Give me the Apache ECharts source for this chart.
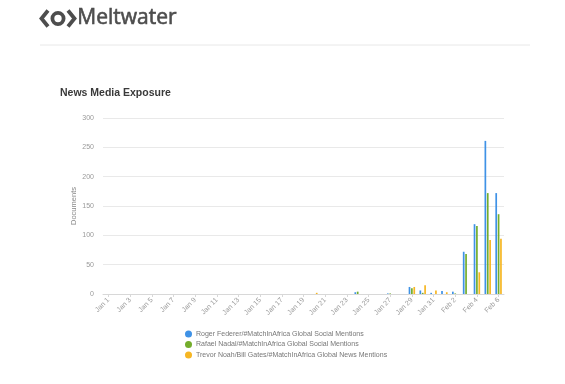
<!DOCTYPE html>
<html><head><meta charset="utf-8">
<script src="https://cdn.jsdelivr.net/npm/echarts@6/dist/echarts.min.js"></script>
<style>html,body{margin:0;padding:0;background:#fff}#c{width:565px;height:384px}</style>
</head><body><div id="c"></div>
<script>
var categories = ["Jan 1","Jan 2","Jan 3","Jan 4","Jan 5","Jan 6","Jan 7","Jan 8","Jan 9","Jan 10","Jan 11","Jan 12","Jan 13","Jan 14","Jan 15","Jan 16","Jan 17","Jan 18","Jan 19","Jan 20","Jan 21","Jan 22","Jan 23","Jan 24","Jan 25","Jan 26","Jan 27","Jan 28","Jan 29","Jan 30","Jan 31","Feb 1","Feb 2","Feb 3","Feb 4","Feb 5","Feb 6"];
var federer = [0,0,0,0,0,0,0,0,0,0,0,0,0,0,0,0,0,0,0,0,0,0,0,3,0,0,1,0,12,6,2,5,4,72,119,261,172];
var nadal   = [0,0,0,0,0,0,0,0,0,0,0,0,0,0,0,0,0,0,0,0,0,0,0,4,0,0,1,0,10,2,0,0,1,68,116,172,136];
var noah    = [0,0,0,0,0,0,0,0,0,0,0,0,0,0,0,0,0,0,0,2,0,0,0,0,0,0,0,0,12,15,6,3,0,0,37,92,94];
var seriesNames = ["Roger Federer/#MatchInAfrica Global Social Mentions","Rafael Nadal/#MatchInAfrica Global Social Mentions","Trevor Noah/Bill Gates/#MatchInAfrica Global News Mentions"];
var yTicks = [0,50,100,150,200,250,300];

var chart = echarts.init(document.getElementById('c'), null, {renderer:'canvas'});
var colors = ['#3f92e6','#74ad2c','#f6b623'];
function mk(i, data){
  return {name: seriesNames[i], type:'bar', data:data, barWidth:1.7, barGap:'40%',
    itemStyle:{color:colors[i]}};
}
chart.setOption({
  animation:false,
  color: colors,
  graphic:[
    {type:'polyline', shape:{points:[[48,10.5],[41.5,18.5],[48,26.5]]}, style:{stroke:'#4d4d4d',lineWidth:3.8,fill:null,lineJoin:'miter'}},
    {type:'circle', shape:{cx:58,cy:18.5,r:5.6}, style:{stroke:'#4d4d4d',lineWidth:3.8,fill:null}},
    {type:'polyline', shape:{points:[[68,10.5],[74.5,18.5],[68,26.5]]}, style:{stroke:'#4d4d4d',lineWidth:3.8,fill:null,lineJoin:'miter'}},
    {type:'text', left:77, top:7, style:{text:'Meltwater', fill:'#4d4d4d', stroke:'#4d4d4d', lineWidth:0.6, font:'400 21px "Open Sans", sans-serif'}},
    {type:'line', shape:{x1:40,y1:45,x2:530,y2:45}, style:{stroke:'#e8e8e8',lineWidth:1}},
    {type:'text', left:60, top:88, style:{text:'News Media Exposure', fill:'#3a3a3a', font:'bold 10.5px "Liberation Sans", Arial, sans-serif'}}
  ],
  legend:{orient:'vertical', left:180, top:325.5, itemWidth:7, itemHeight:7, itemGap:3.5, icon:'circle',
    textStyle:{fontSize:7, color:'#777', fontFamily:'"Liberation Sans", Arial, sans-serif', padding:[0,0,0,-1]},
    data: seriesNames},
  grid:{left:103, right:61, top:118, bottom:90, containLabel:false},
  xAxis:{type:'category', data:categories,
    axisLine:{lineStyle:{color:'#d8d8d8'}},
    axisTick:{show:true, alignWithLabel:true, interval:1, length:3, lineStyle:{color:'#d8d8d8'}},
    axisLabel:{interval:1, rotate:45, fontSize:7, color:'#999', margin:5, fontFamily:'"Liberation Sans", Arial, sans-serif'}},
  yAxis:{type:'value', min:0, max:300, interval:50, name:'Documents', nameLocation:'middle', nameGap:25, nameMoveOverlap:false,
    nameTextStyle:{fontSize:7.5, color:'#888', fontFamily:'"Liberation Sans", Arial, sans-serif'},
    axisLine:{show:false}, axisTick:{show:false},
    axisLabel:{fontSize:7, color:'#999', margin:9, fontFamily:'"Liberation Sans", Arial, sans-serif',
      formatter:function(v){return yTicks.indexOf(v)>=0?String(v):'';}},
    splitLine:{lineStyle:{color:'#e9e9e9'}}},
  series:[mk(0,federer), mk(1,nadal), mk(2,noah)]
});
</script></body></html>
